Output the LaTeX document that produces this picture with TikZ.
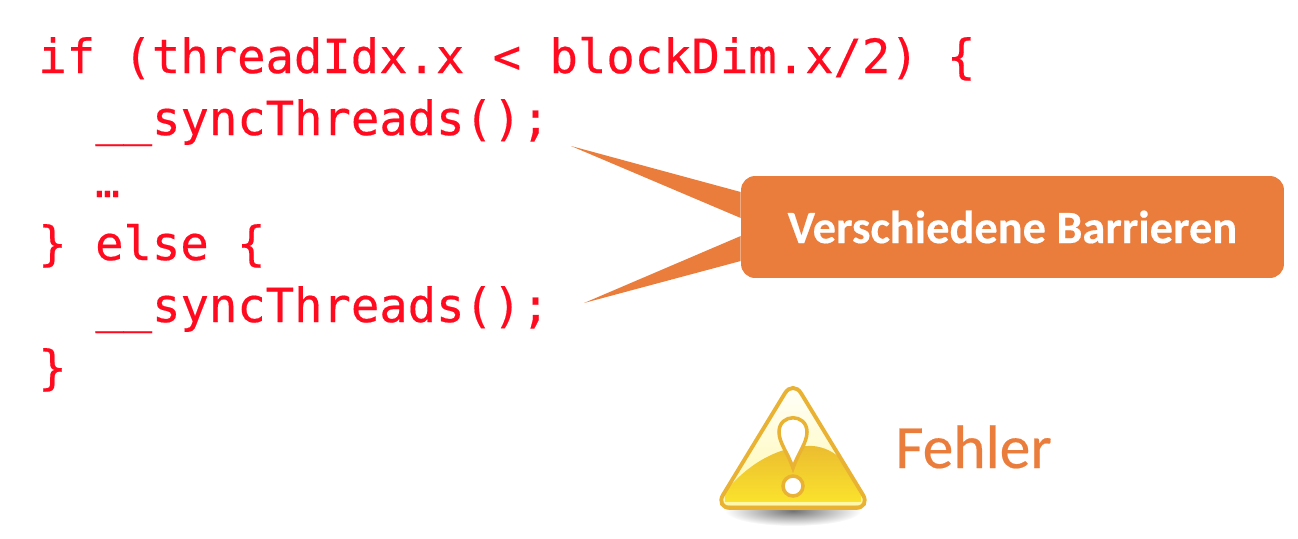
\documentclass[tikz,border=0pt]{standalone}
\usepackage{fontspec}
\setmainfont[FakeBold=0.35]{Carlito}
\setmonofont[FakeBold=0.4]{DejaVu Sans Mono}
\usetikzlibrary{positioning}
\definecolor{codered}{HTML}{FF0A1E}
\definecolor{calloutorange}{HTML}{EB7D3C}
\definecolor{warnrim}{HTML}{E9B233}
\definecolor{warnhigh}{HTML}{EBBC30}
\definecolor{warnlow}{HTML}{FDE92C}
\definecolor{warnpale}{HTML}{FFF8A8}
\tikzset{codeline/.style={anchor=base west,inner sep=0,text=codered,font=\ttfamily\fontsize{26.85}{30}\selectfont},
    callbox/.style={rectangle,rounded corners=8pt,fill=calloutorange,text=white,minimum width=10.86cm,minimum height=2.04cm,inner sep=0,font=\bfseries\fontsize{26.4}{30}\selectfont},
    warnlabel/.style={anchor=base west,inner sep=0,text=calloutorange,font=\fontsize{35}{40}\selectfont},
    warnmark/.style={draw=warnrim,line width=2pt,fill=white},
    warnedge/.style={rounded corners=9pt,line width=2.2pt}}

\begin{document}
\begin{tikzpicture}[x=0.02cm,y=-0.02cm]

\useasboundingbox (0,0) rectangle (1298,538);

\node (line1) [codeline] at (38,73) {if (threadIdx.x < blockDim.x/2) \{};
\node (line2) [codeline] at (95,135) {\_\_syncThreads();};
\node (line3) [codeline,font=\ttfamily\fontsize{23}{26}\selectfont] at (95,197) {…};
\node (line4) [codeline] at (38,260) {\} else \{};
\node (line5) [codeline] at (95,322) {\_\_syncThreads();};
\node (line6) [codeline] at (38,384) {\}};

\node (barriers) [callbox] at (1012.5,227) {Verschiedene Barrieren};
\coordinate (tipupper) at (571,146);
\coordinate (tiplower) at (584,303);
\fill [calloutorange] (tipupper) -- (barriers.west |- 0,192) -- (barriers.west |- 0,218) -- cycle;
\fill [calloutorange] (tiplower) -- (barriers.west |- 0,261) -- (barriers.west |- 0,236) -- cycle;

% warning sign
\shade [inner color=black!55,outer color=white] (793,511) ellipse (68 and 15);
\shade [top color=white,bottom color=warnpale,warnedge]
    (793,380) -- (871,508) -- (715,508) -- cycle;
\begin{scope}
    \clip [rounded corners=9pt] (793,380) -- (871,508) -- (715,508) -- cycle;
    \shade [top color=warnhigh,bottom color=warnlow]
        (725,512) -- (725,492) .. controls (755,455) and (790,445) .. (813,446)
        .. controls (835,448) and (852,465) .. (861,492) -- (861,512) -- cycle;
    \fill [warnpale] (722,502) rectangle (864,505);
\end{scope}
\draw [warnrim,warnedge] (793,380) -- (871,508) -- (715,508) -- cycle;
\draw [warnmark] (793,468) .. controls (788,453) and (779,443) .. (779,432)
    .. controls (779,413) and (807,413) .. (807,432)
    .. controls (807,443) and (798,453) .. (793,468) -- cycle;
\draw [warnmark] (793,486) circle (10);

\node (warntext) [warnlabel] at (895,468) {Fehler};

\end{tikzpicture}
\end{document}
